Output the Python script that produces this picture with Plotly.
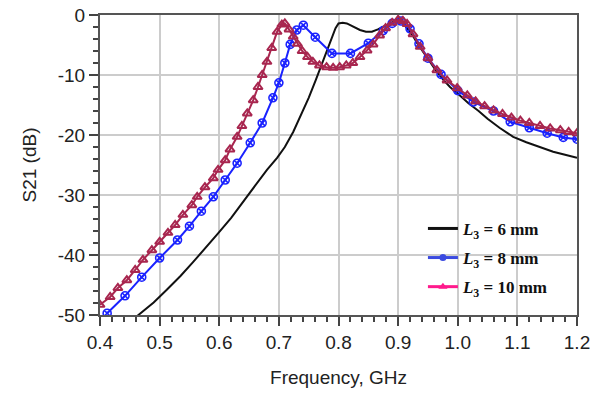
import plotly.graph_objects as go

# ---- data ----
x_l6 = [0.462, 0.49, 0.512, 0.535, 0.556, 0.576, 0.598, 0.62, 0.64, 0.66, 0.68, 0.697, 0.71,
        0.724, 0.736, 0.75, 0.762, 0.775, 0.788, 0.795, 0.8, 0.807, 0.814, 0.825, 0.836, 0.846,
        0.856, 0.866, 0.875, 0.888, 0.898, 0.907, 0.915, 0.925, 0.932, 0.943, 0.954, 0.965,
        0.976, 0.987, 0.999, 1.018, 1.035, 1.05, 1.07, 1.093, 1.115, 1.138, 1.16, 1.18, 1.2]
y_l6 = [-50.2, -47.9, -45.8, -43.5, -41.2, -39.0, -36.4, -33.8, -31.2, -28.6, -25.8, -23.8, -22.0,
        -19.5, -17.0, -13.8, -10.8, -7.3, -4.0, -2.2, -1.4, -1.3, -1.4, -2.0, -2.5, -2.8,
        -2.8, -2.4, -2.0, -1.3, -0.8, -1.3, -2.2, -3.5, -4.7, -6.3, -8.0, -9.5,
        -10.8, -12.0, -13.0, -14.7, -16.0, -17.3, -18.8, -20.3, -21.2, -22.0, -22.8, -23.3, -23.8]

x_l8 = [0.412, 0.442, 0.47, 0.50, 0.53, 0.55, 0.57, 0.59, 0.61, 0.63, 0.652, 0.672, 0.69, 0.70,
        0.71, 0.719, 0.73, 0.741, 0.761, 0.789, 0.82, 0.85, 0.875, 0.89, 0.905, 0.92, 0.935,
        0.95, 0.972, 1.0, 1.026, 1.06, 1.088, 1.12, 1.15, 1.177, 1.2]
y_l8 = [-49.7, -46.8, -43.7, -40.5, -37.5, -35.2, -32.7, -30.3, -27.5, -24.7, -21.3, -18.0, -13.8,
        -11.3, -8.0, -4.9, -2.5, -1.7, -3.7, -6.4, -6.4, -4.7, -2.6, -1.4, -1.0, -2.3, -4.8,
        -7.2, -9.9, -12.6, -14.5, -16.0, -17.8, -18.8, -19.7, -20.4, -20.7]

x_l10 = [0.400, 0.417, 0.430, 0.445, 0.459, 0.472, 0.487, 0.500, 0.514, 0.526, 0.539, 0.554,
         0.563, 0.576, 0.590, 0.598, 0.610, 0.618, 0.630, 0.638, 0.647, 0.657, 0.665, 0.672,
         0.680, 0.688, 0.697, 0.705, 0.710, 0.717, 0.724, 0.731, 0.739, 0.748, 0.757, 0.768,
         0.780, 0.791, 0.802, 0.813, 0.824, 0.836, 0.848, 0.858, 0.869, 0.879, 0.890, 0.900,
         0.908, 0.915, 0.925, 0.937, 0.950, 0.965, 0.982, 0.999, 1.016, 1.030, 1.045, 1.060,
         1.075, 1.090, 1.105, 1.120, 1.138, 1.155, 1.172, 1.186, 1.200]
y_l10 = [-48.3, -47.0, -45.5, -44.2, -42.5, -40.8, -39.2, -37.8, -36.3, -35.0, -33.3, -31.7,
         -30.3, -28.7, -27.2, -25.8, -24.2, -22.4, -20.3, -18.5, -16.4, -14.2, -12.0, -10.0,
         -7.8, -5.5, -2.8, -1.6, -1.4, -2.4, -3.6, -4.8, -6.0, -7.0, -7.8, -8.4,
         -8.7, -8.8, -8.7, -8.4, -8.0, -7.0, -5.9, -4.9, -3.4, -2.2, -1.3, -0.8,
         -1.0, -1.5, -3.2, -5.3, -7.2, -9.2, -10.9, -12.2, -13.4, -14.4, -15.2, -15.9,
         -16.5, -17.1, -17.6, -18.0, -18.5, -18.9, -19.2, -19.5, -19.7]

legend_names = ["<b><i>L</i><sub>3</sub> = 6 mm</b>",
                "<b><i>L</i><sub>3</sub> = 8 mm</b>",
                "<b><i>L</i><sub>3</sub> = 10 mm</b>"]

x_ticks = [0.4, 0.5, 0.6, 0.7, 0.8, 0.9, 1.0, 1.1, 1.2]
x_ticktext = ["0.4", "0.5", "0.6", "0.7", "0.8", "0.9", "1.0", "1.1", "1.2"]
y_ticks = [0, -10, -20, -30, -40, -50]
y_ticktext = ["0", "-10", "-20", "-30", "-40", "-50"]

# ---- figure ----
fig = go.Figure()

fig.add_trace(go.Scatter(x=x_l6, y=y_l6, mode="lines", line=dict(color="#111111", width=2),
                         showlegend=False))
fig.add_trace(go.Scatter(x=x_l8, y=y_l8, mode="lines+markers",
                         line=dict(color="#1a22ff", width=2),
                         marker=dict(symbol="circle-x-open", size=8, color="#1a22ff",
                                     line=dict(width=1.6)),
                         showlegend=False))
fig.add_trace(go.Scatter(x=x_l10, y=y_l10, mode="lines+markers",
                         line=dict(color="#a8264f", width=2),
                         marker=dict(symbol="triangle-up-open", size=8, color="#a8264f",
                                     line=dict(width=2)),
                         showlegend=False))

# legend entries
fig.add_trace(go.Scatter(x=[None], y=[None], mode="lines", name=legend_names[0],
                         line=dict(color="#111111", width=3), legendgroup="a"))
fig.add_trace(go.Scatter(x=[None], y=[None], mode="lines+markers", name=legend_names[1],
                         line=dict(color="#3a4ae0", width=3),
                         marker=dict(symbol="circle", size=7, color="#3a4ae0"), legendgroup="b"))
fig.add_trace(go.Scatter(x=[None], y=[None], mode="lines+markers", name=legend_names[2],
                         line=dict(color="#ff1a8c", width=3),
                         marker=dict(symbol="triangle-up", size=8, color="#ff1a8c"), legendgroup="c"))

axis_common = dict(
    showline=True, linecolor="#555555", linewidth=2, mirror=True,
    showgrid=True, gridcolor="#cccccc", gridwidth=1.5,
    ticks="outside", ticklen=9, tickwidth=1.5, tickcolor="#444444",
    tickfont=dict(family="Liberation Sans, Arial", size=19, color="#222222"),
    zeroline=False, automargin=False,
)

fig.update_xaxes(
    range=[0.4, 1.2], tickvals=x_ticks, ticktext=x_ticktext,
    title=dict(text="Frequency, GHz", font=dict(family="Liberation Sans, Arial", size=19, color="#222222"),
               standoff=19),
    minor=dict(dtick=0.02, ticks="outside", ticklen=5, tickcolor="#444444", showgrid=False),
    **axis_common,
)
fig.update_yaxes(
    range=[-50, 0], tickvals=y_ticks, ticktext=y_ticktext,
    title=dict(text="S21 (dB)", font=dict(family="Liberation Sans, Arial", size=19, color="#222222"),
               standoff=16),
    minor=dict(dtick=2, ticks="outside", ticklen=5, tickcolor="#444444", showgrid=False),
    **axis_common,
)

fig.update_layout(
    width=602, height=395,
    margin=dict(l=100, r=25, t=15, b=80),
    paper_bgcolor="white", plot_bgcolor="white",
    legend=dict(x=0.677, y=0.347, xanchor="left", yanchor="top",
                bgcolor="rgba(0,0,0,0)", borderwidth=0,
                font=dict(family="Liberation Serif, Times New Roman", size=17, color="#111111"),
                traceorder="grouped", tracegroupgap=4),
)

fig.write_html("out.html")
